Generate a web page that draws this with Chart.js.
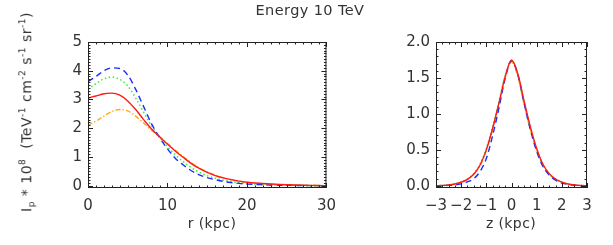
<!DOCTYPE html>
<html>
<head>
<meta charset="utf-8">
<script src="https://cdn.jsdelivr.net/npm/chart.js@4"></script>
<style>
  body { margin: 0; background: #fff; width: 613px; height: 245px; overflow: hidden; position: relative;
         font-family: "DejaVu Sans", sans-serif; color: #333; }
  #c1 { position: absolute; left: 0; top: 0; }
  #c2 { position: absolute; left: 345px; top: 0; }
  .txt { position: absolute; white-space: nowrap; font-size: 14px; }
  #title { left: 310px; top: 2px; transform: translateX(-50%); font-size: 14.5px; letter-spacing: 0.4px; }
  #ytitle { left: 27px; top: 112px; transform: translate(-50%, -50%) rotate(-90deg); letter-spacing: 0.5px; }
  #ytitle sup { font-size: 9px; }
  #ytitle sub { font-size: 9px; }
  #xt1 { left: 212px; top: 215px; transform: translateX(-50%); letter-spacing: 0.4px; }
  #xt2 { left: 511px; top: 215px; transform: translateX(-50%); letter-spacing: 0.4px; }
</style>
</head>
<body>
<canvas id="c1" width="345" height="245"></canvas>
<canvas id="c2" width="268" height="245"></canvas>
<div class="txt" id="title">Energy 10 TeV</div>
<div class="txt" id="ytitle">I<sub>p</sub> * 10<sup>8</sup> &nbsp;(TeV<sup>-1</sup> cm<sup>-2</sup> s<sup>-1</sup> sr<sup>-1</sup>)</div>
<div class="txt" id="xt1">r (kpc)</div>
<div class="txt" id="xt2">z (kpc)</div>
<script>
// radial profile, r in kpc
var rVals = [0,1,2,3,4,5,6,7,8,9,10,11,12,13,14,15,16,17,18,19,20,21,22,23,24,25,26,27,28,29,30];
var rRed    = [3.05,3.12,3.2,3.22,3.15,2.95,2.65,2.3,1.97,1.7,1.45,1.2,0.98,0.77,0.6,0.46,0.35,0.27,0.21,0.16,0.12,0.095,0.075,0.058,0.045,0.034,0.025,0.017,0.01,0.005,0];
var rBlue   = [3.62,3.8,4.0,4.1,4.08,3.85,3.35,2.75,2.15,1.68,1.28,0.95,0.72,0.52,0.38,0.28,0.21,0.15,0.11,0.08,0.06,0.045,0.035,0.025,0.018,0.013,0.009,0.006,0.004,0.002,0];
var rGreen  = [3.36,3.55,3.72,3.78,3.7,3.47,3.05,2.55,2.08,1.7,1.36,1.07,0.83,0.63,0.47,0.35,0.26,0.19,0.14,0.1,0.075,0.055,0.04,0.03,0.022,0.016,0.011,0.007,0.004,0.002,0];
var rOrange = [2.1,2.25,2.42,2.58,2.65,2.6,2.42,2.18,1.93,1.7,1.47,1.23,1.01,0.8,0.62,0.48,0.37,0.28,0.21,0.16,0.12,0.09,0.07,0.054,0.041,0.03,0.021,0.014,0.008,0.004,0];

// vertical profile, z in kpc
var zVals = [-3,-2.75,-2.5,-2.25,-2,-1.75,-1.5,-1.25,-1,-0.75,-0.5,-0.25,0,0.25,0.5,0.75,1,1.25,1.5,1.75,2,2.25,2.5,2.75,3];
var zRed    = [0,0.005,0.012,0.025,0.05,0.09,0.16,0.29,0.5,0.8,1.15,1.52,1.75,1.56,1.18,0.82,0.52,0.3,0.17,0.095,0.052,0.026,0.012,0.005,0];
var zBlue   = [0,0.002,0.006,0.012,0.028,0.055,0.1,0.2,0.38,0.7,1.08,1.5,1.74,1.55,1.15,0.78,0.48,0.27,0.15,0.08,0.04,0.02,0.009,0.003,0];
var zGreen  = [0,0.005,0.012,0.026,0.052,0.095,0.17,0.3,0.52,0.82,1.17,1.53,1.74,1.55,1.16,0.8,0.5,0.29,0.16,0.09,0.05,0.025,0.012,0.005,0];
var zOrange = [0,0.005,0.012,0.025,0.05,0.09,0.16,0.28,0.49,0.78,1.13,1.5,1.72,1.52,1.13,0.78,0.5,0.29,0.16,0.09,0.05,0.025,0.012,0.005,0];

var rTicks = [0,10,20,30];
var zTicks = [-3,-2,-1,0,1,2,3];
var rYTicks = [0,1,2,3,4,5];
var zYTicks = [0,0.5,1,1.5,2];

function pts(xs, ys) {
    var out = [];
    for (var i in xs) {
        out.push({x: xs[i], y: ys[i]});
    }
    return out;
}

function series(xs, red, blue, green, orange) {
    // first dataset is drawn on top
    return [
        {data: pts(xs, red),    borderColor: '#ff1a1a', borderWidth: 1.4},
        {data: pts(xs, blue),   borderColor: '#1a2cff', borderWidth: 1.4, borderDash: [6, 4]},
        {data: pts(xs, green),  borderColor: '#44ee44', borderWidth: 1.6, borderDash: [1.5, 2.5]},
        {data: pts(xs, orange), borderColor: '#ffaa22', borderWidth: 1.4, borderDash: [5, 2, 1.5, 2]}
    ];
}

// IDL style frame with inward ticks on all sides
var idlFrame = {
    id: 'idlFrame',
    afterDraw: function (chart, args, o) {
        var ctx = chart.ctx, a = chart.chartArea;
        var xs = chart.scales.x, ys = chart.scales.y;
        ctx.save();
        ctx.strokeStyle = '#222';
        ctx.lineWidth = 1;
        ctx.strokeRect(a.left + 0.5, a.top + 0.5, a.right - a.left - 1, a.bottom - a.top - 1);
        var v, p, len;
        ctx.beginPath();
        for (v = xs.min; v <= xs.max + 1e-9; v += o.xMinor) {
            p = Math.round(xs.getPixelForValue(v)) + 0.5;
            len = Math.abs(v / o.xMajor - Math.round(v / o.xMajor)) < 1e-6 ? 5 : 2.5;
            ctx.moveTo(p, a.bottom); ctx.lineTo(p, a.bottom - len);
            ctx.moveTo(p, a.top); ctx.lineTo(p, a.top + len);
        }
        for (v = 0; v <= ys.max + 1e-9; v += o.yMinor) {
            p = Math.round(ys.getPixelForValue(v)) + 0.5;
            len = Math.abs(v / o.yMajor - Math.round(v / o.yMajor)) < 1e-6 ? 5 : 2.5;
            ctx.moveTo(a.left, p); ctx.lineTo(a.left + len, p);
            ctx.moveTo(a.right, p); ctx.lineTo(a.right - len, p);
        }
        ctx.stroke();
        ctx.restore();
    }
};

function makeChart(id, datasets, xMin, xMax, xTicks, yMin, yMax, yTicks, yLeft, frameOpts, yFmt) {
    return new Chart(document.getElementById(id), {
        type: 'line',
        data: {datasets: datasets},
        plugins: [idlFrame],
        options: {
            responsive: false,
            animation: false,
            layout: {padding: {left: 0, right: frameOpts.right, top: 42, bottom: 0}},
            elements: {point: {radius: 0}, line: {cubicInterpolationMode: 'monotone', fill: false}},
            plugins: {legend: {display: false}, tooltip: {enabled: false}, idlFrame: frameOpts},
            scales: {
                x: {
                    type: 'linear', min: xMin, max: xMax,
                    afterBuildTicks: function (s) { s.ticks = xTicks.map(function (v) { return {value: v}; }); },
                    afterFit: function (s) { s.height = 57; },
                    grid: {display: false, drawTicks: false},
                    border: {display: false},
                    ticks: {
                        color: '#333', padding: 9, maxRotation: 0, autoSkip: false,
                        font: {family: 'DejaVu Sans', size: 15},
                        callback: function (v) { return String(v).replace('-', '\u2212'); }
                    }
                },
                y: {
                    type: 'linear', min: yMin, max: yMax,
                    afterBuildTicks: function (s) { s.ticks = yTicks.map(function (v) { return {value: v}; }); },
                    afterFit: function (s) { s.width = yLeft; },
                    grid: {display: false, drawTicks: false},
                    border: {display: false},
                    ticks: {
                        color: '#333', padding: 6, autoSkip: false,
                        font: {family: 'DejaVu Sans', size: 15},
                        callback: yFmt
                    }
                }
            }
        }
    });
}

makeChart('c1', series(rVals, rRed, rBlue, rGreen, rOrange), 0, 30, rTicks, -0.08, 5, rYTicks, 88,
    {right: 10, xMinor: 1, xMajor: 10, yMinor: 0.1, yMajor: 1},
    function (v) { return String(Math.round(v)); });

makeChart('c2', series(zVals, zRed, zBlue, zGreen, zOrange), -3, 3, zTicks, -0.03, 2.0, zYTicks, 91,
    {right: 26, xMinor: 0.25, xMajor: 1, yMinor: 0.1, yMajor: 0.5},
    function (v) { return Number(v).toFixed(1); });
</script>
</body>
</html>
